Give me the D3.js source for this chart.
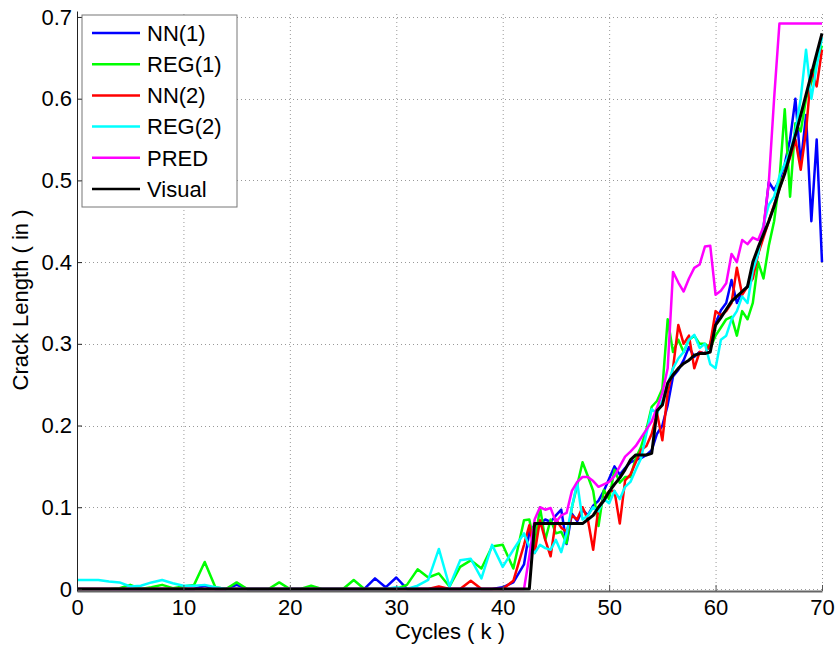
<!DOCTYPE html>
<html>
  <head>
    <meta charset="utf-8">
    <title>Crack length vs cycles</title>
    <script src="https://d3js.org/d3.v7.min.js"></script>
    <style>
      body { margin: 0; background: #fff; }
      text { font-family: "Liberation Sans", Arial, sans-serif; fill: #000; }
    </style>
  </head>
  <body>
    <div id="chart"></div>
    <script>
      // cycles (k): every 1k up to 42, then every 0.5k
      var cycles = d3.range(0, 43).concat(d3.range(42.5, 70.5, 0.5));

      var nn1 = [0,0,0,0,0,0,0,0,0,0, 0,0,0.004,0,0,0.005,0,0,0,0, 0,0,0,0,0,0,0,0,0.013,0.002,
        0.014,0,0,0,0,0,0,0,0,0, 0.002,0.008,0.03,
        0.07,0.078,0.08,0.085,0.082,0.09,0.097,0.055,0.092,0.083,
        0.097,0.09,0.102,0.108,0.12,0.135,0.15,0.14,0.148,0.155,
        0.158,0.16,0.164,0.17,0.19,0.2,0.225,0.26,0.268,0.28,
        0.296,0.284,0.29,0.288,0.3,0.325,0.341,0.35,0.378,0.35,
        0.364,0.37,0.39,0.41,0.44,0.498,0.488,0.5,0.52,0.55,
        0.6,0.52,0.58,0.45,0.55,0.40];
      var reg1 = [0,0,0,0,0.001,0.005,0,0.002,0.005,0.001, 0.003,0.005,0.033,0.002,0,0.008,0,0,0,0.008,
        0,0,0.004,0,0,0,0.011,0,0,0, 0,0.005,0.024,0.014,0.019,0.003,0.027,0.035,0.025,0.052, 0.054,0.025,0.084,
        0.085,0.052,0.1,0.06,0.085,0.068,0.07,0.056,0.1,0.127,
        0.155,0.138,0.12,0.077,0.121,0.11,0.146,0.13,0.137,0.137,
        0.16,0.174,0.195,0.223,0.23,0.245,0.33,0.29,0.305,0.29,
        0.305,0.31,0.3,0.3,0.295,0.31,0.32,0.33,0.333,0.31,
        0.34,0.33,0.35,0.4,0.38,0.42,0.45,0.5,0.587,0.48,
        0.57,0.56,0.6,0.62,0.645,0.665];
      var nn2 = [0,0,0,0,0,0,0,0,0,0, 0,0,0,0,0,0,0,0,0,0, 0,0,0,0,0,0,0,0,0,0,
        0,0,0,0,0.003,0,0,0.01,0,0, 0,0.01,0.054,
        0.078,0.044,0.084,0.06,0.04,0.085,0.075,0.07,0.09,0.085,
        0.1,0.085,0.048,0.1,0.11,0.12,0.12,0.08,0.133,0.14,
        0.155,0.17,0.175,0.19,0.215,0.182,0.24,0.27,0.323,0.3,
        0.31,0.27,0.29,0.288,0.3,0.34,0.335,0.34,0.35,0.393,
        0.36,0.37,0.38,0.41,0.43,0.45,0.47,0.49,0.51,0.528,
        0.55,0.513,0.56,0.635,0.615,0.66];
      var reg2 = [0.011,0.011,0.011,0.009,0.008,0.003,0.004,0.008,0.011,0.007, 0.004,0.004,0.005,0.002,0,0,0,0,0,0,
        0,0,0,0,0,0,0,0,0,0, 0.002,0,0.004,0.011,0.049,0.003,0.035,0.037,0.013,0.054, 0.027,0.048,0.068,
        0.052,0.044,0.054,0.05,0.048,0.06,0.045,0.068,0.1,0.13,
        0.085,0.09,0.1,0.095,0.11,0.105,0.12,0.11,0.125,0.131,
        0.146,0.16,0.19,0.22,0.215,0.23,0.25,0.27,0.282,0.29,
        0.305,0.311,0.295,0.3,0.275,0.27,0.305,0.31,0.33,0.34,
        0.358,0.35,0.39,0.41,0.446,0.47,0.48,0.505,0.52,0.535,
        0.56,0.6,0.66,0.6,0.64,0.675];
      var pred = [0,0,0,0,0,0,0,0,0,0, 0,0,0,0,0,0,0,0,0,0, 0,0,0,0,0,0,0,0,0,0,
        0,0,0,0,0,0,0,0,0,0, 0,0,0,
        0.04,0.085,0.1,0.097,0.099,0.082,0.09,0.093,0.12,0.131,
        0.137,0.137,0.132,0.125,0.128,0.131,0.138,0.15,0.162,0.168,
        0.175,0.185,0.195,0.205,0.222,0.24,0.27,0.388,0.375,0.364,
        0.38,0.393,0.397,0.419,0.42,0.36,0.365,0.374,0.41,0.4,
        0.427,0.422,0.43,0.427,0.443,0.497,0.6,0.692,0.692,0.692,
        0.692,0.692,0.692,0.692,0.692,0.692];
      var visual = [0,0,0,0,0,0,0,0,0,0, 0,0,0,0,0,0,0,0,0,0, 0,0,0,0,0,0,0,0,0,0,
        0,0,0,0,0,0,0,0,0,0, 0,0,0,
        0,0.08,0.08,0.08,0.08,0.08,0.08,0.08,0.08,0.08,
        0.08,0.085,0.09,0.1,0.108,0.119,0.128,0.136,0.146,0.158,
        0.164,0.164,0.164,0.166,0.218,0.225,0.252,0.262,0.27,0.276,
        0.28,0.286,0.288,0.288,0.29,0.323,0.332,0.342,0.352,0.358,
        0.364,0.37,0.4,0.418,0.434,0.45,0.468,0.49,0.508,0.532,
        0.555,0.58,0.605,0.63,0.655,0.68];

      var seriesNames = ["NN(1)", "REG(1)", "NN(2)", "REG(2)", "PRED", "Visual"];
      var seriesValues = [nn1, reg1, nn2, reg2, pred, visual];
      var seriesColors = ["#0000ff", "#00ff00", "#ff0000", "#00ffff", "#ff00ff", "#000000"];
      var xTicks = [0, 10, 20, 30, 40, 50, 60, 70];
      var yTicks = [0, 0.1, 0.2, 0.3, 0.4, 0.5, 0.6, 0.7];

      var width = 835, height = 657;
      var svg = d3.select("#chart").append("svg")
        .attr("width", width)
        .attr("height", height);

      // scales (y runs a hair past 0 and 0.7 like the matlab axes)
      var x = d3.scaleLinear().domain([0, 70]).range([77, 822]);
      var y = d3.scaleLinear().domain([-0.0025, 0.7073]).range([591, 11]);

      // dotted grid
      var grid = svg.append("g").attr("class", "grid")
        .attr("stroke", "#999")
        .attr("stroke-width", 1)
        .attr("stroke-dasharray", "1,3");
      grid.selectAll(".gx").data(xTicks.slice(1)).enter().append("line")
        .attr("x1", d => x(d) + 0.5).attr("x2", d => x(d) + 0.5)
        .attr("y1", y.range()[0]).attr("y2", y.range()[1]);
      grid.selectAll(".gy").data(yTicks).enter().append("line")
        .attr("x1", x(0)).attr("x2", x(70))
        .attr("y1", d => Math.round(y(d)) + 0.5).attr("y2", d => Math.round(y(d)) + 0.5);

      // series lines
      var line = d3.line()
        .x((d, i) => x(cycles[i]))
        .y(d => y(d));
      svg.append("g").selectAll("path")
        .data(seriesValues).enter().append("path")
        .attr("d", line)
        .attr("fill", "none")
        .attr("stroke", (d, i) => seriesColors[i])
        .attr("stroke-width", (d, i) => i === 5 ? 3 : 2.5)
        .attr("stroke-linejoin", "round");

      // axes, ticks pointing inwards
      var xAxis = svg.append("g")
        .attr("transform", "translate(0," + y.range()[0] + ")")
        .call(d3.axisBottom(x).tickValues(xTicks).tickSizeInner(-6).tickSizeOuter(0).tickPadding(8));
      xAxis.select(".domain").attr("stroke", "#666").attr("stroke-width", 2);
      xAxis.selectAll(".tick line").attr("stroke", "#555");
      xAxis.selectAll("text").attr("font-size", 22).attr("font-family", "Liberation Sans, Arial, sans-serif");

      var yAxis = svg.append("g")
        .attr("transform", "translate(" + x(0) + ",0)")
        .call(d3.axisLeft(y).tickValues(yTicks).tickFormat(d3.format("~g")).tickSizeInner(-5).tickSizeOuter(0).tickPadding(5));
      yAxis.select(".domain").attr("stroke", "#222");
      yAxis.selectAll(".tick line").attr("stroke", "#222");
      yAxis.selectAll("text").attr("font-size", 22).attr("font-family", "Liberation Sans, Arial, sans-serif");

      // axis titles
      svg.append("text")
        .attr("x", 450).attr("y", 639)
        .attr("text-anchor", "middle")
        .attr("font-size", 22)
        .text("Cycles ( k )");
      svg.append("text")
        .attr("transform", "translate(28,300) rotate(-90)")
        .attr("text-anchor", "middle")
        .attr("font-size", 22)
        .text("Crack Length ( in )");

      // legend
      var legend = svg.append("g").attr("transform", "translate(82,15)");
      legend.append("rect")
        .attr("width", 155).attr("height", 192)
        .attr("fill", "#fff")
        .attr("stroke", "#777");
      var entry = legend.selectAll(".entry")
        .data(seriesNames).enter().append("g")
        .attr("transform", (d, i) => "translate(0," + (18 + i * 31.2) + ")");
      entry.append("line")
        .attr("x1", 10).attr("x2", 58)
        .attr("stroke", (d, i) => seriesColors[i])
        .attr("stroke-width", 2.5);
      entry.append("text")
        .attr("x", 65).attr("dy", "0.35em")
        .attr("font-size", 22)
        .text(d => d);
    </script>
  </body>
</html>
